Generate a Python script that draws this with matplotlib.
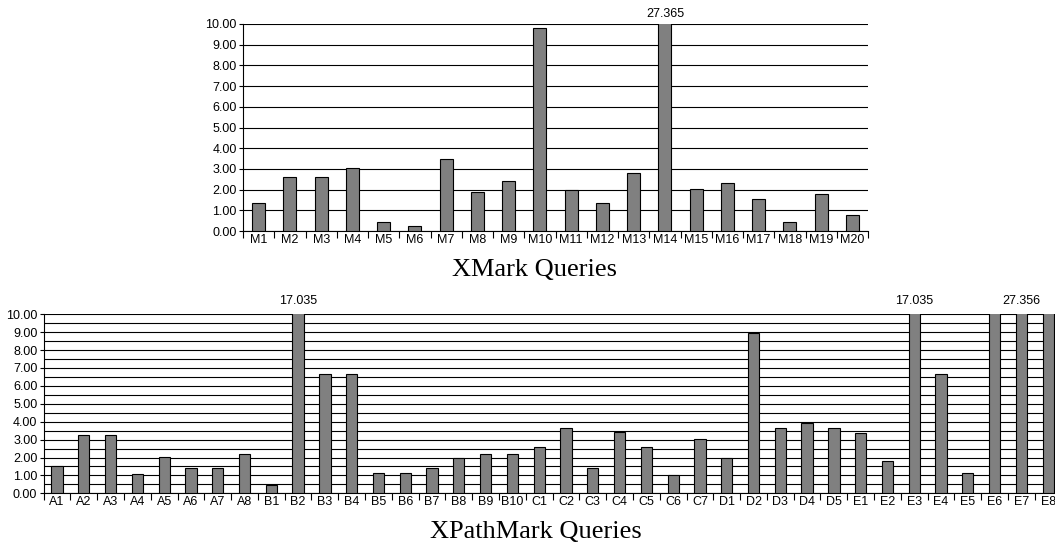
import numpy as np
import matplotlib
matplotlib.use('Agg')
import matplotlib.pyplot as plt

# XMark queries (seconds); M14 goes off the scale
xmark_labels = ['M%d' % i for i in range(1, 21)]
xmark_values = [1.37, 2.61, 2.61, 3.03, 0.45, 0.24, 3.48, 1.87, 2.42, 9.81,
                2.00, 1.37, 2.80, 27.365, 2.05, 2.32, 1.56, 0.42, 1.77, 0.79]

# XPathMark queries; B2, E3, E6, E7, E8 go off the scale
xpath_labels = (['A%d' % i for i in range(1, 9)] + ['B%d' % i for i in range(1, 11)]
                + ['C%d' % i for i in range(1, 8)] + ['D%d' % i for i in range(1, 6)]
                + ['E%d' % i for i in range(1, 9)])
xpath_values = [1.55, 3.26, 3.26, 1.10, 2.05, 1.40, 1.43, 2.18,
                0.45, 17.035, 6.67, 6.67, 1.15, 1.15, 1.43, 1.97, 2.20, 2.20,
                2.61, 3.65, 1.43, 3.41, 2.57, 1.04, 3.05,
                1.97, 8.96, 3.65, 3.91, 3.65,
                3.39, 1.79, 17.035, 6.67, 1.15, 13.0, 27.356, 11.0]
# which overflowing bars get their value written on top
xpath_annotate = ['B2', 'E3', 'E7']
xmark_annotate = ['M14']

plt.rcParams['font.family'] = ['Liberation Sans', 'DejaVu Sans']

fig = plt.figure(figsize=(10.55, 5.48), dpi=100)


def bar_panel(ax, labels, values, annotate, grid_step, label_pad):
    x = np.arange(len(labels))
    ax.bar(x, values, width=0.42, color='#808080', edgecolor='black', linewidth=0.8, zorder=3)
    ax.set_xlim(-0.5, len(labels) - 0.5)
    ax.set_ylim(0, 10)

    # horizontal grid lines
    for y in np.arange(0, 10.001, grid_step):
        ax.axhline(y, color='black', linewidth=0.8, zorder=1)

    ax.set_yticks(np.arange(0, 11, 1))
    ax.set_yticklabels(['%.2f' % v for v in range(0, 11)], fontsize=9)
    ax.set_xticks(x)
    ax.set_xticklabels(labels, fontsize=9)
    ax.set_xticks(np.arange(-0.5, len(labels), 1), minor=True)
    ax.tick_params(axis='x', which='major', length=0, pad=2)
    ax.tick_params(axis='x', which='minor', length=5, width=0.8, direction='out')
    ax.tick_params(axis='y', length=3, width=0.8, pad=1.5)

    for s in ['top', 'right']:
        ax.spines[s].set_visible(False)
    ax.spines['left'].set_linewidth(0.8)
    ax.spines['bottom'].set_linewidth(0.8)

    for lab in annotate:
        i = labels.index(lab)
        ax.annotate('%.3f' % values[i], (i, 10), xytext=(0, label_pad),
                    textcoords='offset points', ha='center', va='bottom',
                    fontsize=9, annotation_clip=False)


ax1 = fig.add_axes([243 / 1055, 1 - 231 / 548, 625 / 1055, 207 / 548])
bar_panel(ax1, xmark_labels, xmark_values, xmark_annotate, 1.0, 3)

ax2 = fig.add_axes([43.6 / 1055, 1 - 493.3 / 548, 1018 / 1055, 179 / 548])
bar_panel(ax2, xpath_labels, xpath_values, xpath_annotate, 0.5, 5)

fig.text(535 / 1055, 1 - 270 / 548, 'XMark Queries', family='Liberation Serif',
         fontsize=19, ha='center', va='center')
fig.text(536 / 1055, 1 - 532 / 548, 'XPathMark Queries', family='Liberation Serif',
         fontsize=19, ha='center', va='center')

fig.savefig('out.png', dpi=100)
